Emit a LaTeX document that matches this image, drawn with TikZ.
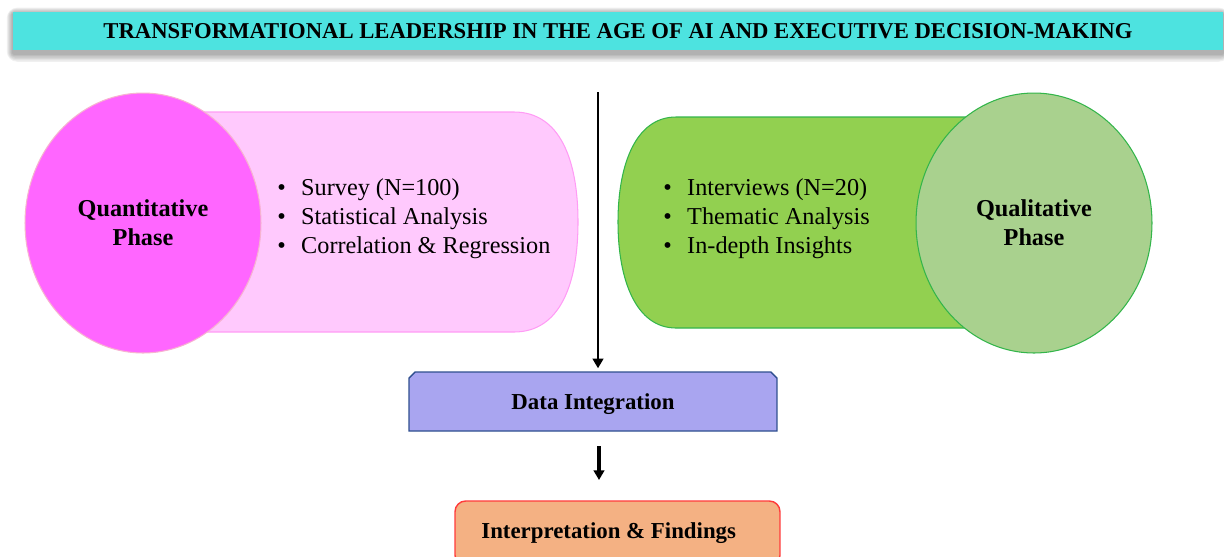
\documentclass[tikz,border=0pt]{standalone}
\usepackage{fontspec}
\setmainfont{Liberation Serif}
\usetikzlibrary{arrows.meta,shapes.geometric,shapes.misc,positioning,calc,backgrounds}

\definecolor{bannercyan}{HTML}{4DE3E0}
\definecolor{quanpink}{HTML}{FFC9FD}
\definecolor{quanedge}{HTML}{FF9CF5}
\definecolor{quanmag}{HTML}{FF66FF}
\definecolor{quanrim}{HTML}{F7B3D0}
\definecolor{qualgreen}{HTML}{92D050}
\definecolor{qualedge}{HTML}{33B54A}
\definecolor{qualsage}{HTML}{A9D18E}
\definecolor{integfill}{HTML}{A9A5F0}
\definecolor{integedge}{HTML}{2F4F8F}
\definecolor{findfill}{HTML}{F4B183}
\definecolor{findedge}{HTML}{FF3B3B}

\newcommand{\bitem}[1]{\makebox[13.6pt][l]{\textbullet}#1}

\begin{document}
\begin{tikzpicture}[x=0.02cm, y=-0.02cm,
    phase/.style={ellipse, draw, line width=0.6pt, inner sep=0pt, minimum width=4.72cm, minimum height=5.2cm, align=center, font=\fontsize{13.8}{16.4}\selectfont\bfseries},
    bullets/.style={align=left, anchor=west, inner sep=0pt, font=\fontsize{13.8}{16.4}\selectfont},
    stagebox/.style={draw, line width=0.8pt, align=center, font=\fontsize{13}{15}\selectfont\bfseries},
    arr/.style={-{Triangle[length=5.5pt,width=6pt]}, line width=1.5pt}
]
\useasboundingbox (0,0) rectangle (1224,556);

% title banner with a soft shadow behind it
\node[fill=bannercyan, minimum width=24.2cm, minimum height=0.76cm, inner sep=0pt,
      font=\fontsize{12.9}{14}\selectfont\bfseries] (title) at (618,31)
    {TRANSFORMATIONAL LEADERSHIP IN THE AGE OF AI AND EXECUTIVE DECISION-MAKING};
\begin{scope}[on background layer]
  \foreach \k in {1,...,6}
    \fill[black, opacity=0.06, rounded corners=\k pt]
      ($(title.north west)+(-\k,2-\k)$) rectangle ($(title.south east)+(\k,3+1.4*\k)$);
\end{scope}

% quantitative side
\filldraw[fill=quanpink, draw=quanedge, line width=0.6pt]
    (200,112) -- (514,112) .. controls (560,112) and (578,160) .. (578,222)
    .. controls (578,284) and (560,332) .. (514,332) -- (200,332) -- cycle;
\node[phase, fill=quanmag, draw=quanrim] (quan) at (143,223) {Quantitative\\Phase};
\node[bullets] (quanlist) at (277,219)
    {\bitem{Survey (N=100)}\\\bitem{Statistical Analysis}\\\bitem{Correlation \& Regression}};

% qualitative side
\filldraw[fill=qualgreen, draw=qualedge, line width=0.6pt]
    (676,117) -- (990,117) -- (990,328) -- (676,328)
    .. controls (636,328) and (618,280) .. (618,222)
    .. controls (618,164) and (636,117) .. (676,117) -- cycle;
\node[phase, fill=qualsage, draw=qualedge] (qual) at (1034,223) {Qualitative\\Phase};
\node[bullets] (quallist) at (663,219)
    {\bitem{Interviews (N=20)}\\\bitem{Thematic Analysis}\\\bitem{In-depth Insights}};

% integration and findings
\node[stagebox, chamfered rectangle, chamfered rectangle corners={north west,north east},
      chamfered rectangle xsep=0.12cm, chamfered rectangle ysep=0.12cm,
      minimum width=7.36cm, minimum height=1.18cm, inner sep=0pt,
      fill=integfill, draw=integedge] (integ) at (593,401.5)
    {\raisebox{-4.8pt}[0pt][0pt]{Data Integration}};
\node[stagebox, rounded corners=6pt, minimum width=6.5cm, minimum height=1.3cm,
      fill=findfill, draw=findedge] (find) at (617.5,533.5)
    {Interpretation \& Findings\hspace*{10pt}};

\coordinate (split) at (598,92);
\draw[arr] (split) -- ($(split |- integ.north)+(0,-3)$);
\coordinate (linktop) at (599,446);
\coordinate (linkbot) at (599,480);
\draw[arr, line width=1.8pt] (linktop) -- (linkbot);
\end{tikzpicture}
\end{document}
